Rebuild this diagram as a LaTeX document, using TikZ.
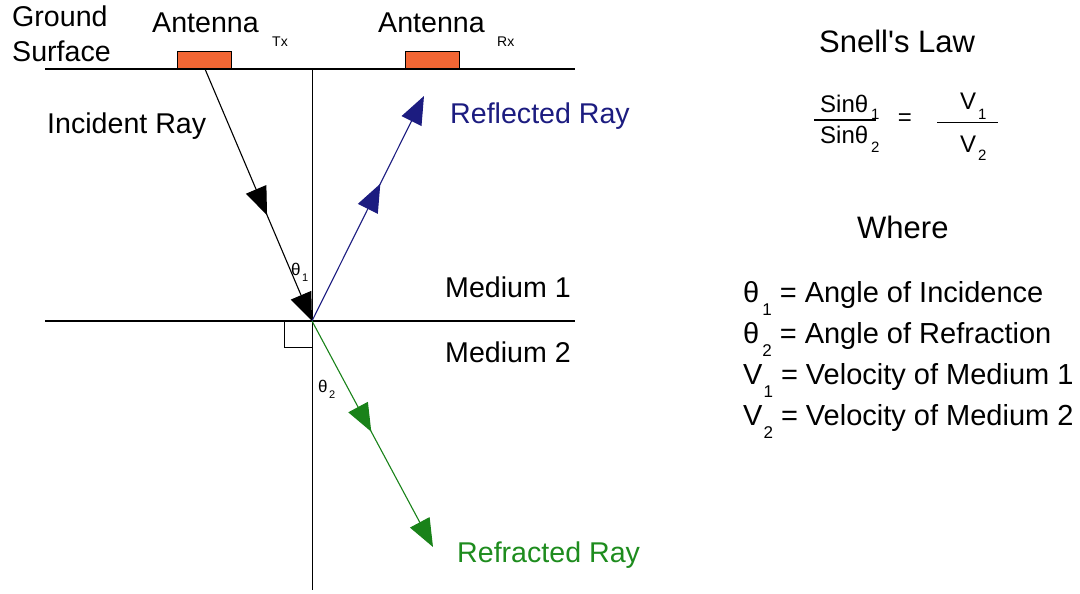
\documentclass[tikz,border=0pt]{standalone}
\usepackage{fontspec}
\setmainfont{Liberation Sans}
\usetikzlibrary{arrows.meta,decorations.markings}
\definecolor{navyray}{RGB}{28,28,128}
\definecolor{greenray}{RGB}{25,130,25}
\definecolor{greentext}{RGB}{30,140,30}
\definecolor{antorange}{RGB}{242,102,52}
\newcommand{\lsub}[1]{\raisebox{-13pt}{\fontsize{17}{17}\selectfont #1}}
\tikzset{
  tri/.tip={Triangle[length=28pt,width=22pt]},
  lbl/.style={font=\fontsize{28.6}{34}\selectfont, inner sep=0pt, anchor=base west},
  lst/.style={font=\fontsize{29}{34}\selectfont, inner sep=0pt, anchor=base west},
  big/.style={font=\fontsize{31}{36}\selectfont, inner sep=0pt, anchor=base west},
  frac/.style={font=\fontsize{24}{28}\selectfont, inner sep=0pt, anchor=base west},
  subs/.style={font=\fontsize{14}{16}\selectfont, inner sep=0pt, anchor=base west},
  small/.style={font=\fontsize{17}{20}\selectfont, inner sep=0pt, anchor=base west},
  tiny/.style={font=\fontsize{11}{13}\selectfont, inner sep=0pt, anchor=base west},
  ground/.style={line width=1.4pt},
  ray/.style={line width=1.1pt},
  antenna/.style={fill=antorange, draw=black, line width=0.8pt},
  midarrow/.style={postaction={decorate}, decoration={markings, mark=at position #1 with {\arrow{tri}}}},
}
\begin{document}
\begin{tikzpicture}[x=1pt,y=-1pt]
\useasboundingbox (0,0) rectangle (1080,594);
% coordinates
\coordinate (gl) at (45,69);
\coordinate (gr) at (575,69);
\coordinate (bl) at (45,321);
\coordinate (br) at (575,321);
\coordinate (ntop) at (312,69);
\coordinate (nbot) at (312,590);
\coordinate (O) at (312,321);
\coordinate (txf) at (205,69);
\coordinate (rxe) at (424,96);
\coordinate (rfe) at (433,547);
% lines
\draw[ground] (gl) -- (gr);
\draw[ground] (bl) -- (br);
\draw[line width=1pt] (ntop) -- (nbot);
\draw[line width=1pt] (284,321) rectangle (312,347);
% antennas
\node[antenna, minimum width=54pt, minimum height=17pt, anchor=south west, inner sep=0pt] (tx) at (177,69) {};
\node[antenna, minimum width=54pt, minimum height=17pt, anchor=south west, inner sep=0pt] (rx) at (405,69) {};
% rays
\draw[ray, black, midarrow=0.58, -tri] (txf) -- (O);
\draw[ray, navyray, midarrow=0.61, -tri] (O) -- (rxe);
\draw[ray, greenray, midarrow=0.49, -tri] (O) -- (rfe);
% left labels
\node[lbl] (ground) at (12,27) {Ground};
\node[lbl] (surface) at (12,62) {Surface};
\node[lbl] (antx) at (152,33) {Antenna};
\node[subs] (txl) at (272,47) {Tx};
\node[lbl] (anrx) at (378,33) {Antenna};
\node[subs] (rxl) at (497,47) {Rx};
\node[lbl] (inc) at (47,133) {Incident Ray};
\node[lbl, text=navyray] (refl) at (450,124) {Reflected Ray};
\node[lbl] (med1) at (445,297) {Medium 1};
\node[lbl] (med2) at (445,362) {Medium 2};
\node[lbl, text=greentext] (refr) at (457,562) {Refracted Ray};
\node[small] (th1) at (291,275) {θ};
\node[tiny] (th1s) at (302,281) {1};
\node[small] (th2) at (318,392) {θ};
\node[tiny] (th2s) at (329,398) {2};
% right: Snell's law
\node[big] (snell) at (819,53) {Snell\textquotesingle s Law};
\node[frac] (num1) at (820,113) {Sinθ};
\node[frac] (num1s) at (871,119) {\fontsize{15}{15}\selectfont 1};
\coordinate (f1l) at (814,120);
\coordinate (f1r) at (876,120);
\draw[line width=1pt] (f1l) -- (f1r);
\node[frac] (den1) at (820,143) {Sinθ};
\node[frac] (den1s) at (871,153) {\fontsize{15}{15}\selectfont 2};
\node[font=\fontsize{24}{28}\selectfont, inner sep=0pt] (eq) at (905,120) {=};
\node[frac] (vn) at (960,110) {V};
\node[frac] (vns) at (978,120) {\fontsize{15}{15}\selectfont 1};
\coordinate (f2l) at (937,122);
\coordinate (f2r) at (998,122);
\draw[line width=1pt] (f2l) -- (f2r);
\node[frac] (vd) at (960,152) {V};
\node[frac] (vds) at (978,160) {\fontsize{15}{15}\selectfont 2};
% where
\node[big] (where) at (857,238) {Where};
\node[lst] (r1) at (743,302) {θ\kern3pt\lsub{1}\kern8pt= Angle of Incidence};
\node[lst] (r2) at (743,343) {θ\kern3pt\lsub{2}\kern8pt= Angle of Refraction};
\node[lst] (r3) at (743,384) {V\kern1pt\lsub{1}\kern8pt= Velocity of Medium 1};
\node[lst] (r4) at (743,425) {V\kern1pt\lsub{2}\kern8pt= Velocity of Medium 2};
\end{tikzpicture}
\end{document}
